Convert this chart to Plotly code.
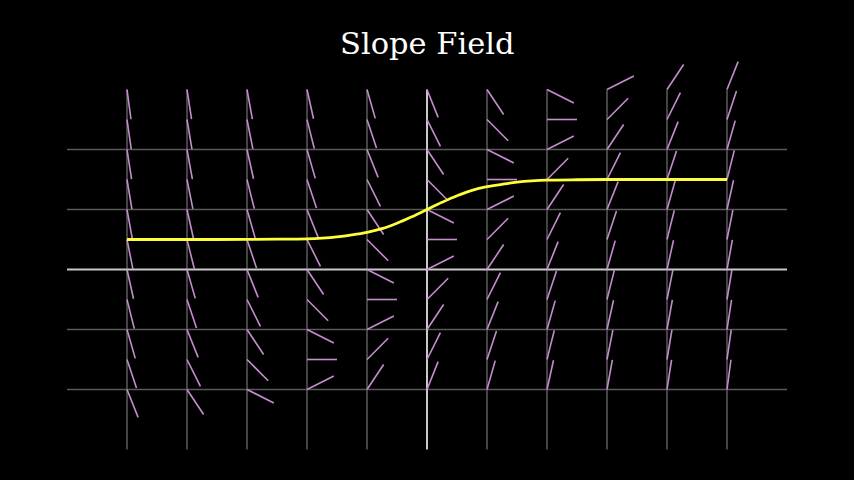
import math
import plotly.graph_objects as go

# ---- data ----
field_x = [-5, -4, -3, -2, -1, 0, 1, 2, 3, 4, 5]
field_y = [3.0, 2.5, 2.0, 1.5, 1.0, 0.5, 0.0, -0.5, -1.0, -1.5, -2.0]
# slope read at each (x, y): rows follow field_y, columns follow field_x
slopes = [
    [-7.5, -6.5, -5.5, -4.5, -3.5, -2.5, -1.5, -0.5, 0.5, 1.5, 2.5],
    [-7.0, -6.0, -5.0, -4.0, -3.0, -2.0, -1.0, 0.0, 1.0, 2.0, 3.0],
    [-6.5, -5.5, -4.5, -3.5, -2.5, -1.5, -0.5, 0.5, 1.5, 2.5, 3.5],
    [-6.0, -5.0, -4.0, -3.0, -2.0, -1.0, 0.0, 1.0, 2.0, 3.0, 4.0],
    [-5.5, -4.5, -3.5, -2.5, -1.5, -0.5, 0.5, 1.5, 2.5, 3.5, 4.5],
    [-5.0, -4.0, -3.0, -2.0, -1.0, 0.0, 1.0, 2.0, 3.0, 4.0, 5.0],
    [-4.5, -3.5, -2.5, -1.5, -0.5, 0.5, 1.5, 2.5, 3.5, 4.5, 5.5],
    [-4.0, -3.0, -2.0, -1.0, 0.0, 1.0, 2.0, 3.0, 4.0, 5.0, 6.0],
    [-3.5, -2.5, -1.5, -0.5, 0.5, 1.5, 2.5, 3.5, 4.5, 5.5, 6.5],
    [-3.0, -2.0, -1.0, 0.0, 1.0, 2.0, 3.0, 4.0, 5.0, 6.0, 7.0],
    [-2.5, -1.5, -0.5, 0.5, 1.5, 2.5, 3.5, 4.5, 5.5, 6.5, 7.5],
]
curve_x = [-5, -4.5, -4, -3.5, -3, -2.5, -2, -1.75, -1.5, -1.25, -1, -0.75, -0.5, -0.25,
           0, 0.25, 0.5, 0.75, 1, 1.25, 1.5, 1.75, 2, 2.5, 3, 3.5, 4, 4.5, 5]
curve_y = [0.50, 0.50, 0.50, 0.50, 0.502, 0.505, 0.512, 0.524, 0.545, 0.578, 0.62, 0.68, 0.77, 0.88,
           1.00, 1.12, 1.23, 1.32, 1.38, 1.42, 1.455, 1.476, 1.488, 1.496, 1.50, 1.50, 1.50, 1.50, 1.50]
grid_v = [-5, -4, -3, -2, -1, 1, 2, 3, 4, 5]
grid_h = [-2, -1, 1, 2]
x_span = [-6, 6]
y_span = [-3, 3]
seg_len = 0.5
title = "Slope Field"

# ---- build segments ----
sx, sy = [], []
for i, yv in enumerate(field_y):
    for j, xv in enumerate(field_x):
        m = slopes[i][j]
        d = seg_len / math.sqrt(1 + m * m)
        sx += [xv, xv + d, None]
        sy += [yv, yv + m * d, None]

fig = go.Figure()
fig.add_trace(go.Scatter(x=sx, y=sy, mode="lines",
                         line=dict(color="#C58DCF", width=1.6),
                         hoverinfo="skip", showlegend=False))
fig.add_trace(go.Scatter(x=curve_x, y=curve_y, mode="lines", line_shape="spline",
                         line=dict(color="#FFFF3A", width=2.8),
                         hoverinfo="skip", showlegend=False))

shapes = []
for gx in grid_v:
    shapes.append(dict(type="line", x0=gx, x1=gx, y0=y_span[0], y1=y_span[1],
                       line=dict(color="#5A5A5A", width=1.5), layer="below"))
for gy in grid_h:
    shapes.append(dict(type="line", x0=x_span[0], x1=x_span[1], y0=gy, y1=gy,
                       line=dict(color="#5A5A5A", width=1.5), layer="below"))
shapes.append(dict(type="line", x0=x_span[0], x1=x_span[1], y0=0, y1=0,
                   line=dict(color="#C8C8C8", width=2), layer="below"))
shapes.append(dict(type="line", x0=0, x1=0, y0=y_span[0], y1=y_span[1],
                   line=dict(color="#C8C8C8", width=2), layer="below"))

W, H = 854, 480
px_per_unit = 60.0
x0_px, y0_px = 427.0, 269.5
xr = [-x0_px / px_per_unit, (W - x0_px) / px_per_unit]
yr = [-(H - y0_px) / px_per_unit, y0_px / px_per_unit]

fig.update_layout(
    width=W, height=H, autosize=False,
    margin=dict(l=0, r=0, t=0, b=0),
    paper_bgcolor="#000000", plot_bgcolor="#000000",
    shapes=shapes,
    xaxis=dict(range=xr, visible=False, fixedrange=True),
    yaxis=dict(range=yr, visible=False, fixedrange=True),
    annotations=[dict(text=title, x=0.5, y=1 - 43.5 / H, xref="paper", yref="paper",
                      xanchor="center", yanchor="middle", showarrow=False,
                      font=dict(family="DejaVu Serif", size=30.5, color="#FFFFFF"))],
)
fig.write_html("out.html", config=dict(displayModeBar=False),
               post_script="document.body.style.margin='0';document.body.style.background='#000';")
